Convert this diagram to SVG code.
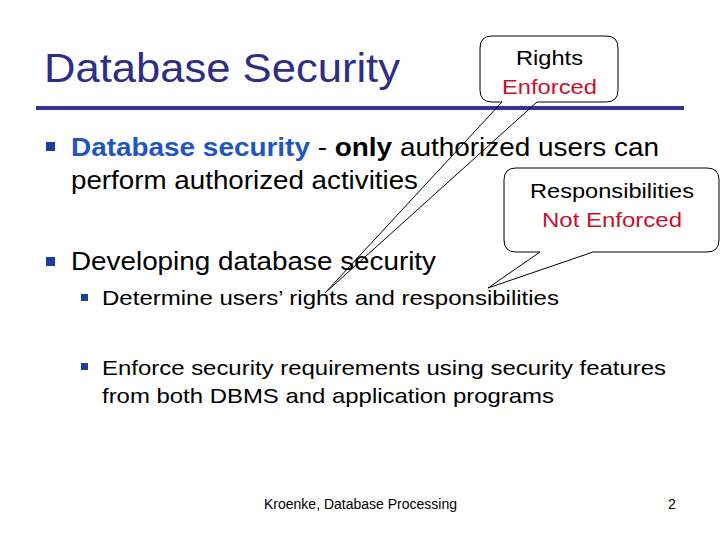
<svg xmlns="http://www.w3.org/2000/svg" width="720" height="540" viewBox="0 0 720 540">
<style>
text{font-family:"Liberation Sans",Arial,sans-serif}
.b{font-size:25px;fill:#000}
.s{font-size:21px;fill:#000}
.bul{fill:#1a3f9c}
.call{fill:none;stroke:#000;stroke-width:1}
.red{fill:#c8102e}
</style>
<rect width="720" height="540" fill="#fff"/>
<text x="44" y="82" font-size="40" fill="#2e2e86" textLength="356" lengthAdjust="spacingAndGlyphs">Database Security</text>
<rect x="36" y="106" width="648" height="4" fill="#333399"/>
<g id="text">
<rect class="bul" x="46" y="142" width="9" height="9"/>
<text class="b" x="71" y="156" textLength="588" lengthAdjust="spacingAndGlyphs"><tspan font-weight="bold" fill="#2255c4">Database security</tspan> - <tspan font-weight="bold">only</tspan> authorized users can</text>
<text class="b" x="71" y="189" textLength="347" lengthAdjust="spacingAndGlyphs">perform authorized activities</text>
<rect class="bul" x="46" y="257" width="9" height="9"/>
<text class="b" x="71" y="270" textLength="365" lengthAdjust="spacingAndGlyphs">Developing database security</text>
<rect class="bul" x="81" y="294" width="7" height="7"/>
<text class="s" x="102" y="305" textLength="457" lengthAdjust="spacingAndGlyphs">Determine users’ rights and responsibilities</text>
<rect class="bul" x="81" y="363" width="7" height="7"/>
<text class="s" x="102" y="375" textLength="564" lengthAdjust="spacingAndGlyphs">Enforce security requirements using security features</text>
<text class="s" x="102" y="403" textLength="452" lengthAdjust="spacingAndGlyphs">from both DBMS and application programs</text>
<text x="264" y="509" font-size="14" textLength="193" lengthAdjust="spacingAndGlyphs">Kroenke, Database Processing</text>
<text x="672" y="509" font-size="14" text-anchor="middle">2</text>
</g>
<g id="connectors"></g>
<g id="rights">
<path class="call" d="M492,36 H606 Q618,36 618,48 V90 Q618,102 606,102 H537 L325,293 L502,102 H492 Q480,102 480,90 V48 Q480,36 492,36 Z"/>
<text x="516" y="65" font-size="21" textLength="67" lengthAdjust="spacingAndGlyphs">Rights</text>
<text x="502" y="94" font-size="21" class="red" textLength="95" lengthAdjust="spacingAndGlyphs">Enforced</text>
</g>
<g id="resp">
<path class="call" d="M516,168 H707 Q719,168 719,180 V240 Q719,252 707,252 H593 L488,288 L540,252 H516 Q504,252 504,240 V180 Q504,168 516,168 Z"/>
<text x="530" y="198" font-size="21" textLength="164" lengthAdjust="spacingAndGlyphs">Responsibilities</text>
<text x="542" y="227" font-size="21" class="red" textLength="140" lengthAdjust="spacingAndGlyphs">Not Enforced</text>
</g>
</svg>
